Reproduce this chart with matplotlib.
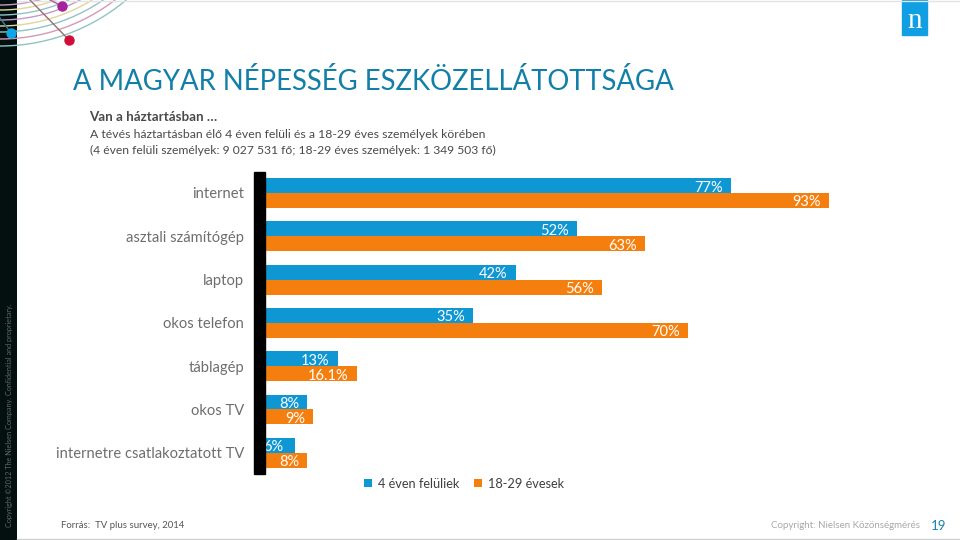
import matplotlib
matplotlib.use("Agg")
import matplotlib.pyplot as plt
from matplotlib.patches import Circle, Rectangle

plt.rcParams['font.family'] = ['Lato', 'DejaVu Sans']

# ---------- data ----------
categories = ["internet", "asztali számítógép", "laptop", "okos telefon",
              "táblagép", "okos TV", "internetre csatlakoztatott TV"]
all_4plus = [77, 52, 42, 35, 13, 8, 6]
young_18_29 = [93, 63, 56, 70, 16.1, 9, 8]
labels_4plus = ["77%", "52%", "42%", "35%", "13%", "8%", "6%"]
labels_young = ["93%", "63%", "56%", "70%", "16.1%", "9%", "8%"]
series_names = ["4 éven felüliek", "18-29 évesek"]

arc_radii = [196, 189, 182, 176, 170, 165, 160, 155]
arc_colors = ["#8fc4c4", "#d39ab5", "#8fc4c4", "#e3d59a",
              "#c39ac8", "#8fc4c4", "#e3d59a", "#c39ac8"]

BLUE = "#0f97d3"
ORANGE = "#f57f0e"
GREY = "#6d6e70"
W, H = 960, 540


def px_axes(fig, x0, y0, x1, y1):
    # axes from pixel box (y measured from the top)
    return fig.add_axes([x0 / W, 1 - y1 / H, (x1 - x0) / W, (y1 - y0) / H])


fig = plt.figure(figsize=(9.6, 5.4), dpi=100, facecolor="white")

# ---------- bars ----------
ax = px_axes(fig, 258, 172, 872, 474)
ypos = list(range(len(categories)))
h = 0.345
bars_a = ax.barh([y - h / 2 for y in ypos], all_4plus, height=h, color=BLUE, label=series_names[0])
bars_b = ax.barh([y + h / 2 for y in ypos], young_18_29, height=h, color=ORANGE, label=series_names[1])
ax.set_xlim(0, 100)
ax.set_ylim(6.49, -0.485)
ax.set_yticks(ypos)
ax.set_yticklabels(categories, fontsize=10.6, color=GREY)
ax.tick_params(axis='y', length=0, pad=10)
ax.set_xticks([])
for s in ax.spines.values():
    s.set_visible(False)
ax.patch.set_alpha(0)

for rects, texts in ((bars_a, labels_4plus), (bars_b, labels_young)):
    for r, t in zip(rects, texts):
        cy = r.get_y() + r.get_height() / 2
        if t == "6%":
            ax.annotate(t, (0, cy), xytext=(5, -2), textcoords='offset pixels',
                        ha='left', va='center', color='white', fontsize=10.5)
        else:
            ax.annotate(t, (r.get_width(), cy), xytext=(-8, -2), textcoords='offset pixels',
                        ha='right', va='center', color='white', fontsize=10.5)

ax.legend(loc='upper left', bbox_to_anchor=(0.172, -0.012), ncol=2, frameon=False,
          fontsize=9.2, labelcolor="#404040", handlelength=0.65, handleheight=0.65,
          handletextpad=0.45, columnspacing=1.15, borderpad=0, borderaxespad=0)

# ---------- page decoration, drawn in pixel coordinates ----------
pg = fig.add_axes([0, 0, 1, 1], zorder=5)
pg.set_xlim(0, W)
pg.set_ylim(H, 0)
pg.axis('off')
pg.patch.set_alpha(0)

pg.add_patch(Rectangle((0, 0), 17, H, color="#04100f", lw=0, zorder=1))
for rad, col in zip(arc_radii, arc_colors):
    pg.add_patch(Circle((0, -150), rad, fill=False, ec=col, lw=1.0, zorder=2))
pg.plot([30, 69], [0, 40], color="#9c6b72", lw=1, zorder=4)
pg.plot([50, 62], [0, 6], color="#a0609f", lw=1, zorder=4)
pg.plot([0, 11], [18, 33], color="#3c7f9c", lw=1, zorder=4)
pg.plot([11], [33], 'o', color="#12a5e6", ms=6.5, zorder=5)
pg.plot([62], [6], 'o', color="#a4239c", ms=6.5, zorder=5)
pg.plot([69], [40], 'o', color="#cf0f3a", ms=6.5, zorder=5)

pg.add_patch(Rectangle((254, 172), 11, 302, color="black", zorder=3))
pg.plot([17, W], [0.5, 0.5], color="#e3e3e3", lw=1)
pg.plot([17, W], [538.5, 538.5], color="#cfcfcf", lw=1)

pg.add_patch(Rectangle((902, 0), 25, 35, color="#0f9fe2"))
pg.text(914.5, 21, "n", color="white", fontsize=21, family="Liberation Serif", ha='center', va='center')

pg.text(10, 415, "Copyright ©2012 The Nielsen Company. Confidential and proprietary.",
        rotation=90, color="#60666a", fontsize=5.2, ha='center', va='center', zorder=6)

pg.text(73, 81, "A MAGYAR NÉPESSÉG ESZKÖZELLÁTOTTSÁGA", color="#127fa8", fontsize=19.85,
        ha='left', va='center')
pg.text(89, 117, "Van a háztartásban …", color="#4a4a4a", fontsize=9.65, fontweight='bold',
        ha='left', va='center')
pg.text(90, 134, "A tévés háztartásban élő 4 éven felüli és a 18-29 éves személyek körében",
        color="#4a4a4a", fontsize=8.8, ha='left', va='center')
pg.text(90, 150, "(4 éven felüli személyek: 9 027 531 fő; 18-29 éves személyek: 1 349 503 fő)",
        color="#4a4a4a", fontsize=8.75, ha='left', va='center')

pg.text(61, 526, "Forrás:  TV plus survey, 2014", color="#555555", fontsize=6.9, ha='left', va='center')
pg.text(920, 526, "Copyright: Nielsen Közönségmérés", color="#a8a8a8", fontsize=7, ha='right', va='center')
pg.text(939, 526, "19", color="#1583ad", fontsize=9.5, ha='center', va='center')

fig.savefig("out.png", dpi=100)
